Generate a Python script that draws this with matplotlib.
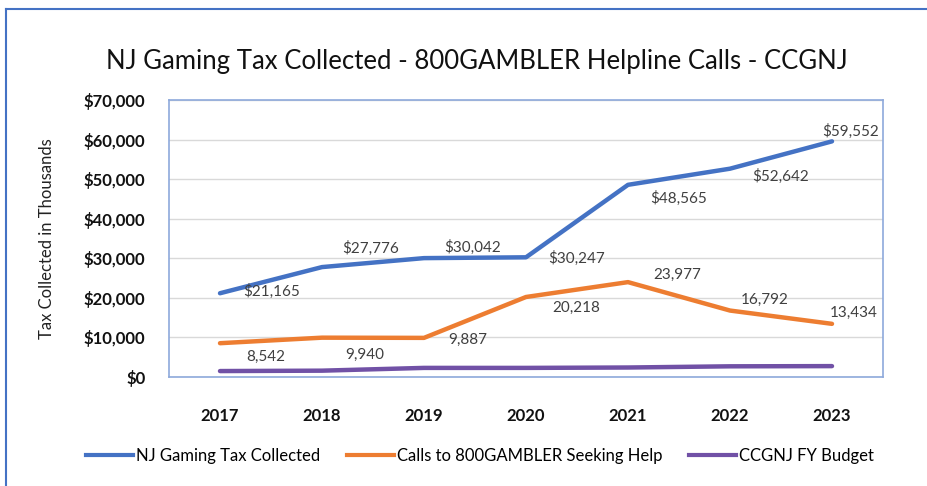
import matplotlib
matplotlib.use("Agg")
import matplotlib.pyplot as plt
from matplotlib.lines import Line2D
from matplotlib.ticker import FuncFormatter

plt.rcParams['font.family'] = ['Lato', 'DejaVu Sans']

years = ['2017', '2018', '2019', '2020', '2021', '2022', '2023']
tax = [21165, 27776, 30042, 30247, 48565, 52642, 59552]
calls = [8542, 9940, 9887, 20218, 23977, 16792, 13434]
budget = [1500, 1600, 2300, 2300, 2400, 2700, 2750]
tax_labels = ['$21,165', '$27,776', '$30,042', '$30,247', '$48,565', '$52,642', '$59,552']
calls_labels = ['8,542', '9,940', '9,887', '20,218', '23,977', '16,792', '13,434']
series_names = ['NJ Gaming Tax Collected', 'Calls to 800GAMBLER Seeking Help', 'CCGNJ FY Budget']
title = 'NJ Gaming Tax Collected - 800GAMBLER Helpline Calls - CCGNJ'
ylabel = 'Tax Collected in Thousands'

# label offsets in pixels (dx, dy) ; dy positive = up
tax_off = [(52, 2), (49, 19), (49, 11), (51, -1), (51, -14), (51, -8), (19, 10)]
calls_off = [(46, -14), (43, -17), (44, -2), (50, -11), (49, 7), (35, 11), (22, 11)]

BLUE = '#4472C4'
ORANGE = '#ED7D31'
PURPLE = '#7151A6'
LABEL = '#404040'

fig = plt.figure(figsize=(9.28, 4.86), dpi=100)
ax_l, ax_r, ax_t, ax_b = 169, 883, 100, 377
ax = fig.add_axes([ax_l/928, 1-ax_b/486, (ax_r-ax_l)/928, (ax_b-ax_t)/486])

x = list(range(len(years)))
ax.plot(x, tax, color=BLUE, lw=3.2, solid_capstyle='round', zorder=3)
ax.plot(x, calls, color=ORANGE, lw=3.2, solid_capstyle='round', zorder=3)
ax.plot(x, budget, color=PURPLE, lw=3.2, solid_capstyle='round', zorder=3)

for xi, v, t, (dx, dy) in zip(x, tax, tax_labels, tax_off):
    ax.annotate(t, (xi, v), xytext=(dx, dy), textcoords='offset pixels',
                ha='center', va='center', fontsize=11, color=LABEL, zorder=4)
for xi, v, t, (dx, dy) in zip(x, calls, calls_labels, calls_off):
    ax.annotate(t, (xi, v), xytext=(dx, dy), textcoords='offset pixels',
                ha='center', va='center', fontsize=11, color=LABEL, zorder=4)

ax.set_xlim(-0.5, len(years) - 0.5)
ax.set_ylim(0, 70000)
ax.set_yticks(range(0, 70001, 10000))
ax.yaxis.set_major_formatter(FuncFormatter(lambda v, p: '${:,.0f}'.format(v)))
ax.set_xticks(x)
ax.set_xticklabels(years)
ax.grid(axis='y', color='#D9D9D9', lw=1, zorder=0)
ax.tick_params(axis='both', length=0, labelsize=12, colors='#111111')
ax.tick_params(axis='y', pad=17)
ax.tick_params(axis='x', pad=22)
for lab in ax.get_xticklabels() + ax.get_yticklabels():
    lab.set_fontweight('bold')
for s in ax.spines.values():
    s.set_color('#8EA9DB')
    s.set_linewidth(1.2)

ax.set_ylabel(ylabel, fontsize=12, color='#222222')
ax.yaxis.set_label_coords((55 - ax_l) / (ax_r - ax_l), 0.5)

fig.text(477/928, 1-62/486, title, ha='center', va='center', fontsize=18.5, color='#111111')

handles = [Line2D([], [], color=c, lw=3) for c in (BLUE, ORANGE, PURPLE)]
fig.legend(handles, series_names, loc='center', bbox_to_anchor=(480/928, 1-456/486),
           ncol=3, frameon=False, fontsize=12, handlelength=2.8, handletextpad=0.2,
           columnspacing=1.6)

# outer chart border
fig.add_artist(Line2D([6/928, 6/928], [0, 1-9/486], transform=fig.transFigure, color=BLUE, lw=1.5))
fig.add_artist(Line2D([6/928, 1], [1-9/486, 1-9/486], transform=fig.transFigure, color=BLUE, lw=1.5))

fig.savefig('out.png', dpi=100)
